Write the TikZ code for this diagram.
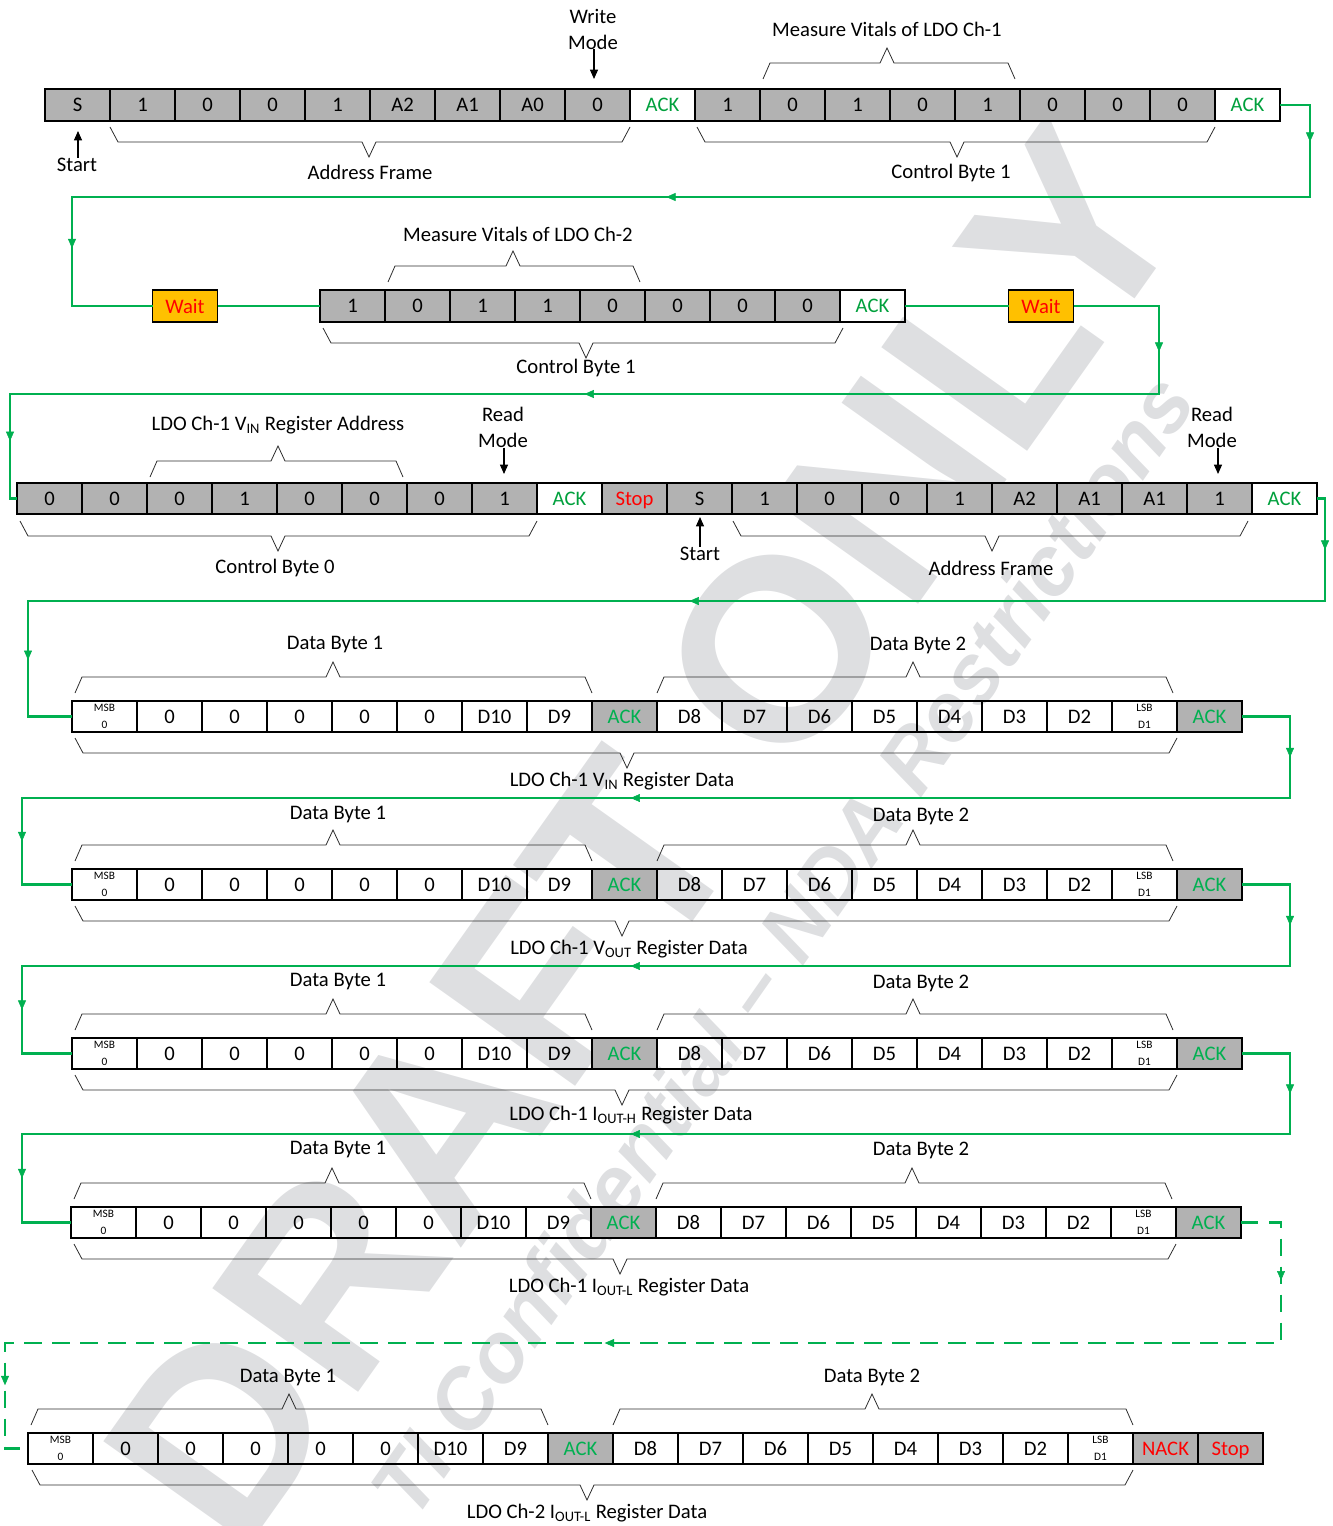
\documentclass[tikz,border=0pt]{standalone}
\usepackage{fontspec}
\setmainfont{Carlito}
\newfontfamily\wmfont{Liberation Sans}
\usetikzlibrary{arrows.meta,decorations.markings}
\definecolor{cellgray}{RGB}{178,178,178}
\definecolor{lgreen}{RGB}{0,176,80}
\definecolor{ackdark}{RGB}{0,160,60}
\definecolor{wmgray}{RGB}{222,223,225}
\definecolor{waitorange}{RGB}{255,192,0}
\definecolor{brgray}{RGB}{45,45,45}
\tikzset{
  cellbox/.style={draw=black, line width=1pt, minimum width=48.75pt, minimum height=23.6pt,
    inner sep=0pt, outer sep=0pt, align=center, text depth=0pt, font=\fontsize{15.5}{18}\selectfont},
  waitbox/.style={cellbox, fill=waitorange, text=red, line width=1.3pt},
  lbl/.style={font=\fontsize{15.5}{19.5}\selectfont, align=center, inner sep=0pt},
  brk/.style={draw=brgray, line width=0.6pt},
  gline/.style={draw=lgreen, line width=2pt, line join=miter},
  gdash/.style={gline, dash pattern=on 13pt off 8pt},
  arrmark/.style={postaction={decorate}, decoration={markings,
    mark=at position #1 with {\arrow[lgreen]{Triangle[length=7pt,width=6pt]}}}},
  blkarr/.style={draw=black, line width=0.8pt, -{Triangle[length=7pt,width=6pt]}},
  rowframe/.style={draw=black, line width=1.8pt},
  wmA/.style={text=wmgray, inner sep=0pt, font=\wmfont\bfseries\fontsize{195}{200}\selectfont},
  wmB/.style={text=wmgray, inner sep=0pt, font=\wmfont\bfseries\itshape\fontsize{63}{66}\selectfont}
}
\newcommand\smallcell{\fontsize{8.5}{10}\selectfont}
\newcommand\msbtext{\smallcell MSB\\[-5.5pt]\smallcell 0}
\newcommand\lsbtext{\smallcell LSB\\[-5.5pt]\smallcell D1}
\newcommand\cellrow[4]{%
  \foreach \t/\f/\c [count=\i] in #4 {%
    \node[cellbox, fill=\f, text=\c] (#1\i) at ({#2+65*\i-32.5},#3) {\t};}}
\newcommand\topbr[4]{%
  \draw[brk] (#1,#4-8) -- (#1+7,#4-24) -- (#3-7,#4-24) -- (#3,#4-39) -- (#3+7,#4-24) -- (#2-7,#4-24) -- (#2,#4-8);}
\newcommand\botbr[4]{%
  \draw[brk] (#1,#4+6) -- (#1+8,#4+21) -- (#3-7,#4+21) -- (#3,#4+36) -- (#3+7,#4+21) -- (#2-8,#4+21) -- (#2,#4+6);}
\def\rowA{S/cellgray/black,1/cellgray/black,0/cellgray/black,0/cellgray/black,1/cellgray/black,A2/cellgray/black,A1/cellgray/black,A0/cellgray/black,0/cellgray/black,ACK/none/ackdark,1/cellgray/black,0/cellgray/black,1/cellgray/black,0/cellgray/black,1/cellgray/black,0/cellgray/black,0/cellgray/black,0/cellgray/black,ACK/none/ackdark}
\def\rowB{1/cellgray/black,0/cellgray/black,1/cellgray/black,1/cellgray/black,0/cellgray/black,0/cellgray/black,0/cellgray/black,0/cellgray/black,ACK/none/ackdark}
\def\rowC{0/cellgray/black,0/cellgray/black,0/cellgray/black,1/cellgray/black,0/cellgray/black,0/cellgray/black,0/cellgray/black,1/cellgray/black,ACK/none/ackdark,Stop/cellgray/red,S/cellgray/black,1/cellgray/black,0/cellgray/black,0/cellgray/black,1/cellgray/black,A2/cellgray/black,A1/cellgray/black,A1/cellgray/black,1/cellgray/black,ACK/none/ackdark}
\def\rowD{\msbtext/none/black,0/none/black,0/none/black,0/none/black,0/none/black,0/none/black,D10/none/black,D9/none/black,ACK/cellgray/lgreen,D8/none/black,D7/none/black,D6/none/black,D5/none/black,D4/none/black,D3/none/black,D2/none/black,\lsbtext/none/black,ACK/cellgray/lgreen}
\def\rowE{\msbtext/none/black,0/none/black,0/none/black,0/none/black,0/none/black,0/none/black,D10/none/black,D9/none/black,ACK/cellgray/lgreen,D8/none/black,D7/none/black,D6/none/black,D5/none/black,D4/none/black,D3/none/black,D2/none/black,\lsbtext/none/black,NACK/cellgray/red,Stop/cellgray/red}
\begin{document}
\begin{tikzpicture}[x=0.75pt,y=-0.75pt]
\useasboundingbox (0,0) rectangle (1333,1526);
% watermark
\node[wmA, rotate=54.6] (wmdraft) at (645,835) {DRAFT ONLY};
\node[wmB, rotate=55] (wmconf) at (782,945) {TI Confidential – NDA Restrictions};

% ---------- Row 1
\cellrow{r1c}{45}{105}{\rowA}
\draw[rowframe] (r1c1.north west) rectangle (r1c19.south east);
\topbr{763}{1015}{887}{87}
\botbr{110}{630}{369}{121}
\botbr{697}{1215}{957}{121}
\node[lbl] (l1a) at (593,29) {Write\\Mode};
\coordinate (l1at) at (594,79);
\draw[blkarr] (l1a.south -| l1at) -- (l1at);
\node[lbl] (l1b) at (887,29) {Measure Vitals of LDO Ch-1};
\node[lbl] (l1c) at (77,165) {Start};
\coordinate (l1ct) at (78,131);
\draw[blkarr] (l1c.north -| l1ct) -- (l1ct);
\node[lbl] (l1d) at (370,172) {Address Frame};
\node[lbl] (l1e) at (951,173) {Control Byte 1};

% ---------- Row 2
\node[waitbox] (w1) at (185,306) {Wait};
\cellrow{r2c}{320}{306}{\rowB}
\draw[rowframe] (r2c1.north west) rectangle (r2c9.south east);
\node[waitbox] (w2) at (1041,306) {Wait};
\topbr{388}{640}{513}{290}
\botbr{323}{843}{586}{322}
\node[lbl] (l2a) at (518,234) {Measure Vitals of LDO Ch-2};
\node[lbl] (l2b) at (576,368) {Control Byte 1};

% ---------- Row 3
\cellrow{r3c}{17}{498.5}{\rowC}
\draw[rowframe] (r3c1.north west) rectangle (r3c20.south east);
\topbr{150}{403}{278}{485}
\botbr{20}{537}{278}{515}
\botbr{733}{1248}{992}{515}
\node[lbl] (l3a) at (278,425) {LDO Ch-1 V\textsubscript{IN} Register Address};
\node[lbl] (l3b) at (503,427) {Read\\Mode};
\coordinate (l3bt) at (504,474);
\draw[blkarr] (l3b.south -| l3bt) -- (l3bt);
\node[lbl] (l3c) at (275,568) {Control Byte 0};
\node[lbl] (l3d) at (700,554) {Start};
\coordinate (l3dt) at (700,517);
\draw[blkarr] (l3d.north -| l3dt) -- (l3dt);
\node[lbl] (l3e) at (991,568) {Address Frame};
\node[lbl] (l3f) at (1212,427) {Read\\Mode};
\coordinate (l3ft) at (1218,474);
\draw[blkarr] (l3f.south -| l3ft) -- (l3ft);

% ---------- Rows 4-7 (data)
\cellrow{r4c}{72}{716.5}{\rowD}
\draw[rowframe] (r4c1.north west) rectangle (r4c18.south east);
\topbr{75}{592}{333}{701}
\topbr{657}{1173}{913}{701}
\botbr{75}{1177}{627}{732}
\node[lbl] (l4a) at (335,645) {Data Byte 1};
\node[lbl] (l4b) at (918,645) {Data Byte 2};
\node[lbl] (l4c) at (622,781) {LDO Ch-1 V\textsubscript{IN} Register Data};

\cellrow{r5c}{72}{884.5}{\rowD}
\draw[rowframe] (r5c1.north west) rectangle (r5c18.south east);
\topbr{75}{592}{333}{869}
\topbr{657}{1173}{913}{869}
\botbr{75}{1177}{622}{900}
\node[lbl] (l5a) at (338,815) {Data Byte 1};
\node[lbl] (l5b) at (921,816) {Data Byte 2};
\node[lbl] (l5c) at (629,949) {LDO Ch-1 V\textsubscript{OUT} Register Data};

\cellrow{r6c}{72}{1053.5}{\rowD}
\draw[rowframe] (r6c1.north west) rectangle (r6c18.south east);
\topbr{75}{592}{333}{1038}
\topbr{657}{1173}{913}{1038}
\botbr{75}{1177}{622}{1069}
\node[lbl] (l6a) at (338,982) {Data Byte 1};
\node[lbl] (l6b) at (921,983) {Data Byte 2};
\node[lbl] (l6c) at (631,1115) {LDO Ch-1 I\textsubscript{OUT-H} Register Data};

\cellrow{r7c}{71}{1222.5}{\rowD}
\draw[rowframe] (r7c1.north west) rectangle (r7c18.south east);
\topbr{74}{591}{332}{1207}
\topbr{656}{1172}{912}{1207}
\botbr{74}{1176}{620}{1238}
\node[lbl] (l7a) at (338,1150) {Data Byte 1};
\node[lbl] (l7b) at (921,1150) {Data Byte 2};
\node[lbl] (l7c) at (629,1287) {LDO Ch-1 I\textsubscript{OUT-L} Register Data};

% ---------- Row 8
\cellrow{r8c}{28}{1448.5}{\rowE}
\draw[rowframe] (r8c1.north west) rectangle (r8c19.south east);
\topbr{31}{548}{289}{1433}
\topbr{613}{1133}{872}{1433}
\botbr{32}{1133}{587}{1464}
\node[lbl] (l8a) at (288,1377) {Data Byte 1};
\node[lbl] (l8b) at (872,1377) {Data Byte 2};
\node[lbl] (l8c) at (587,1513) {LDO Ch-2 I\textsubscript{OUT-L} Register Data};

% ---------- green connectors
\coordinate (a1) at (1310,105); \coordinate (a2) at (1310,197);
\coordinate (a3) at (72,197);   \coordinate (a4) at (72,306);
\draw[gline] (r1c19.east) -- (a1) -- (a2) -- (a3) -- (a4) -- (w1.west);
\path[arrmark=0.4] (a1) -- (a2);
\path[arrmark=0.52] (a2) -- (a3);
\path[arrmark=0.47] (a3) -- (a4);

\draw[gline] (w1.east) -- (r2c1.west);
\draw[gline] (r2c9.east) -- (w2.west);

\coordinate (b1) at (1159,306); \coordinate (b2) at (1159,394);
\coordinate (b3) at (10,394);   \coordinate (b4) at (10,498.5);
\draw[gline] (w2.east) -- (b1) -- (b2) -- (b3) -- (b4) -- (r3c1.west);
\path[arrmark=0.52] (b1) -- (b2);
\path[arrmark=0.5] (b2) -- (b3);
\path[arrmark=0.45] (b3) -- (b4);

\coordinate (c1) at (1325,498.5); \coordinate (c2) at (1325,601);
\coordinate (c3) at (28,601);     \coordinate (c4) at (28,716.5);
\draw[gline] (r3c20.east) -- (c1) -- (c2) -- (c3) -- (c4) -- (r4c1.west);
\path[arrmark=0.5] (c1) -- (c2);
\path[arrmark=0.49] (c2) -- (c3);
\path[arrmark=0.51] (c3) -- (c4);

\coordinate (d1) at (1290,716.5); \coordinate (d2) at (1290,798);
\coordinate (d3) at (22,798);     \coordinate (d4) at (22,884.5);
\draw[gline] (r4c18.east) -- (d1) -- (d2) -- (d3) -- (d4) -- (r5c1.west);
\path[arrmark=0.5] (d1) -- (d2);
\path[arrmark=0.52] (d2) -- (d3);
\path[arrmark=0.5] (d3) -- (d4);

\coordinate (e1) at (1290,884.5); \coordinate (e2) at (1290,966);
\coordinate (e3) at (22,966);     \coordinate (e4) at (22,1053.5);
\draw[gline] (r5c18.east) -- (e1) -- (e2) -- (e3) -- (e4) -- (r6c1.west);
\path[arrmark=0.5] (e1) -- (e2);
\path[arrmark=0.52] (e2) -- (e3);
\path[arrmark=0.5] (e3) -- (e4);

\coordinate (f1) at (1290,1053.5); \coordinate (f2) at (1290,1134);
\coordinate (f3) at (22,1134);     \coordinate (f4) at (22,1222.5);
\draw[gline] (r6c18.east) -- (f1) -- (f2) -- (f3) -- (f4) -- (r7c1.west);
\path[arrmark=0.5] (f1) -- (f2);
\path[arrmark=0.52] (f2) -- (f3);
\path[arrmark=0.5] (f3) -- (f4);

\coordinate (g1) at (1281,1222.5); \coordinate (g2) at (1281,1343);
\coordinate (g3) at (5,1343);      \coordinate (g4) at (5,1448.5);
\draw[gdash] (r7c18.east) -- (g1) -- (g2) -- (g3) -- (g4) -- (r8c1.west);
\path[arrmark=0.48] (g1) -- (g2);
\path[arrmark=0.53] (g2) -- (g3);
\path[arrmark=0.4] (g3) -- (g4);
\end{tikzpicture}
\end{document}
